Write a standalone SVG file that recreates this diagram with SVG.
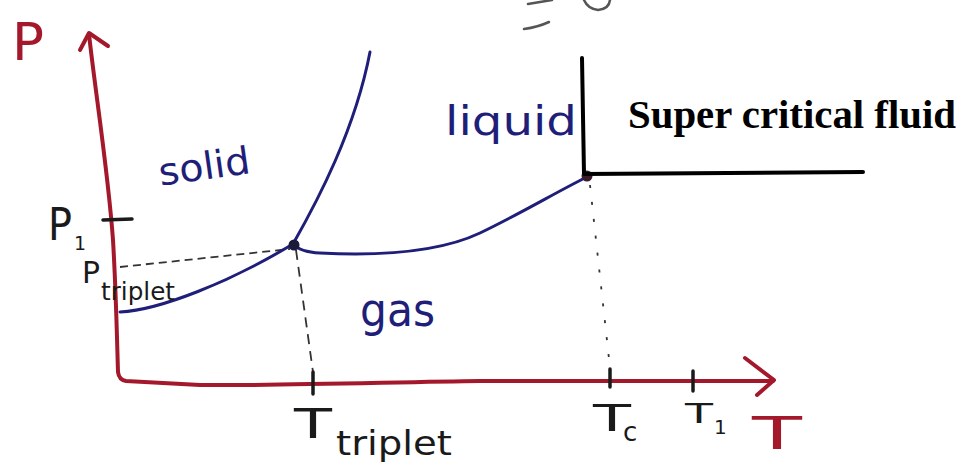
<svg xmlns="http://www.w3.org/2000/svg" width="961" height="476" viewBox="0 0 961 476">
<style>
.axis{fill:none;stroke:#a3192b;stroke-width:4;stroke-linecap:round;stroke-linejoin:round}
.curve{fill:none;stroke:#1f1f7a;stroke-width:3;stroke-linecap:round}
.guide{fill:none;stroke:#333;stroke-width:1.8}
.tick{stroke:#1a1a1a;stroke-width:3.5;stroke-linecap:round}
.hand{font-family:"DejaVu Sans","Liberation Sans",sans-serif}
.blue{fill:#1f1f7a}
.red{fill:#a3192b}
.dark{fill:#1a1a1a}
</style>
<rect width="961" height="476" fill="#fff"/>
<g id="scribbles" fill="none" stroke="#555" stroke-width="2.5" stroke-linecap="round">
<path d="M524,29 Q538,27 549,22"/>
<path d="M584,0 Q588,9 598,10 Q609,9 610,0"/>
<path d="M528,4 Q540,2 552,0"/>
</g>
<g id="axes">
<path class="axis" d="M89,34 C95,90 108,170 113,240 C116,290 117,340 118,372 Q119,380 126,381 L200,385 C260,386 400,382 480,381 L773,381"/>
<path class="axis" d="M80,50 L89,33 L108,46"/>
<path class="axis" d="M745,358 L774,380 L757,395"/>
<text class="hand red" x="12" y="60" font-size="52" textLength="32" lengthAdjust="spacingAndGlyphs">P</text>
<text class="hand red" x="752" y="449" font-size="44" textLength="50" lengthAdjust="spacingAndGlyphs">T</text>
</g>
<g id="guides">
<path class="guide" d="M120,267 L290,249" stroke-dasharray="8 5"/>
<path class="guide" d="M296,250 L313,372" stroke-dasharray="10 7" stroke-width="2"/>
<path class="guide" d="M590,185 L610,368" stroke-dasharray="3 14" stroke-width="2.2"/>
</g>
<g id="ticks">
<path class="tick" d="M103,220 L132,219"/>
<path class="tick" d="M313,372 L313,394"/>
<path class="tick" d="M610,369 L610,387"/>
<path class="tick" d="M693,371 L693,391"/>
</g>
<g id="curves">
<path class="curve" d="M120,312 C160,310 230,282 293,244"/>
<path class="curve" d="M293,244 C318,200 355,130 370,52"/>
<path class="curve" d="M293,244 Q300,252 320,253 C380,256 440,252 480,233 C520,214 560,190 587,177"/>
</g>
<g id="triple-point"><circle cx="294" cy="245" r="5.5" fill="#1a1a3a"/></g>
<g id="critical-point"><circle cx="587" cy="176" r="5.5" fill="#3a1a2a"/></g>
<g id="supercritical-boundary">
<path d="M582,58 L584,174 L863,172" fill="none" stroke="#000" stroke-width="4" stroke-linecap="round" stroke-linejoin="round"/>
<text x="628" y="128" font-family="'Liberation Serif',serif" font-weight="bold" font-size="40" textLength="328" lengthAdjust="spacingAndGlyphs" fill="#000">Super critical fluid</text>
</g>
<g id="phase-labels">
<text class="hand blue" x="158" y="180" font-size="38" textLength="92" lengthAdjust="spacingAndGlyphs" transform="rotate(-8 200 165)">solid</text>
<text class="hand blue" x="445" y="135" font-size="40" textLength="132" lengthAdjust="spacingAndGlyphs">liquid</text>
<text class="hand blue" x="360" y="326" font-size="46" textLength="75" lengthAdjust="spacingAndGlyphs">gas</text>
</g>
<g id="axis-labels">
<text class="hand dark" x="48" y="240" font-size="44" textLength="24" lengthAdjust="spacingAndGlyphs">P</text>
<text class="hand dark" x="74" y="250" font-size="19">1</text>
<text class="hand dark" x="82" y="283" font-size="30" textLength="18" lengthAdjust="spacingAndGlyphs">P</text>
<text class="hand dark" x="101" y="300" font-size="25" textLength="74" lengthAdjust="spacingAndGlyphs">triplet</text>
<text class="hand dark" x="294" y="438" font-size="40" textLength="38" lengthAdjust="spacingAndGlyphs">T</text>
<text class="hand dark" x="336" y="455" font-size="34" textLength="116" lengthAdjust="spacingAndGlyphs">triplet</text>
<text class="hand dark" x="593" y="431" font-size="38" textLength="38" lengthAdjust="spacingAndGlyphs">T</text>
<text class="hand dark" x="623" y="441" font-size="26">c</text>
<text class="hand dark" x="685" y="423" font-size="26" textLength="28" lengthAdjust="spacingAndGlyphs">T</text>
<text class="hand dark" x="714" y="434" font-size="20">1</text>
</g>
</svg>
